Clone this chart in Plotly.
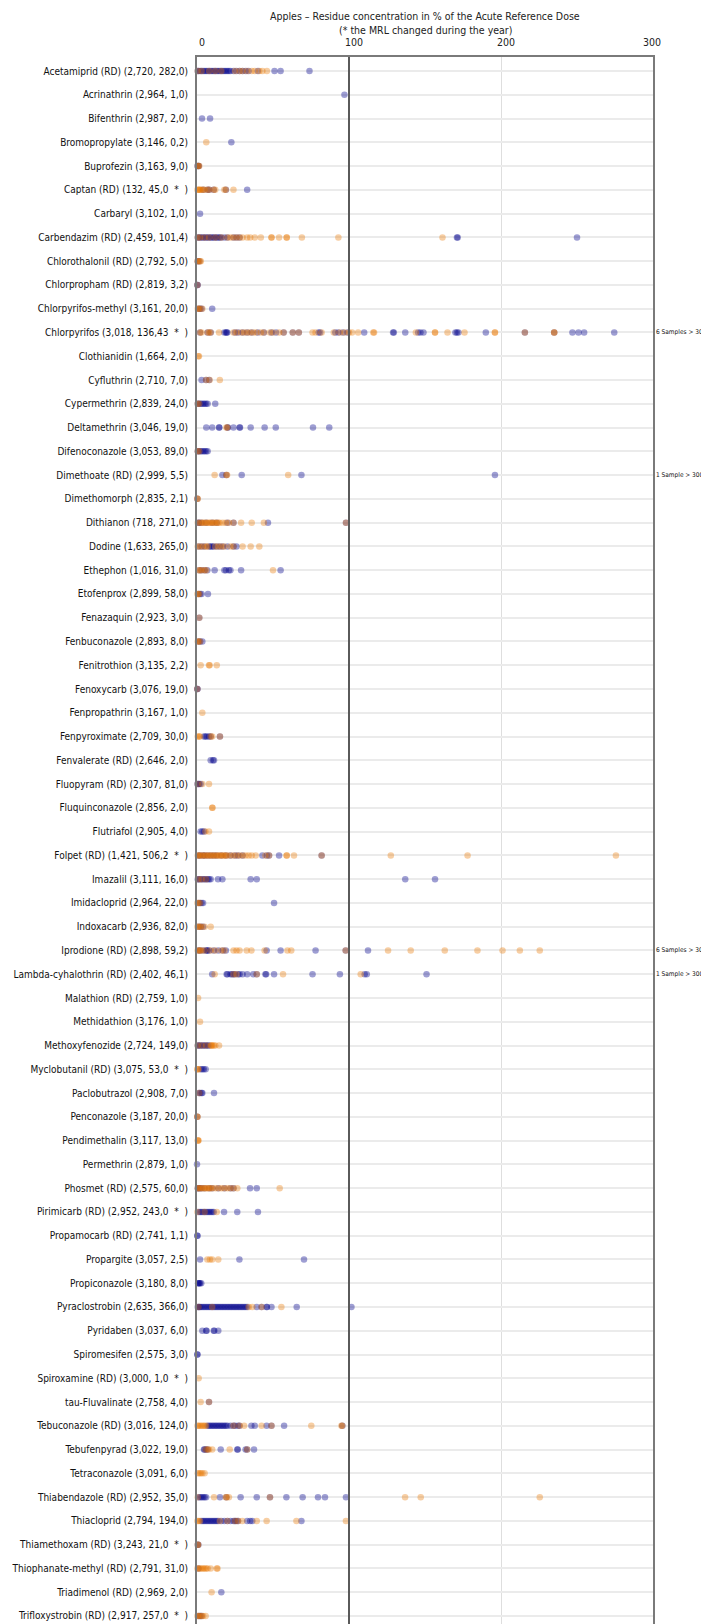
import plotly.graph_objects as go

STAR = " \u00a0*\u00a0 )"
categories = [
    "Acetamiprid (RD) (2,720, 282,0)", "Acrinathrin (2,964, 1,0)", "Bifenthrin (2,987, 2,0)",
    "Bromopropylate (3,146, 0,2)", "Buprofezin (3,163, 9,0)", "Captan (RD) (132, 45,0" + STAR,
    "Carbaryl (3,102, 1,0)", "Carbendazim (RD) (2,459, 101,4)", "Chlorothalonil (RD) (2,792, 5,0)",
    "Chlorpropham (RD) (2,819, 3,2)", "Chlorpyrifos-methyl (3,161, 20,0)", "Chlorpyrifos (3,018, 136,43" + STAR,
    "Clothianidin (1,664, 2,0)", "Cyfluthrin (2,710, 7,0)", "Cypermethrin (2,839, 24,0)",
    "Deltamethrin (3,046, 19,0)", "Difenoconazole (3,053, 89,0)", "Dimethoate (RD) (2,999, 5,5)",
    "Dimethomorph (2,835, 2,1)", "Dithianon (718, 271,0)", "Dodine (1,633, 265,0)",
    "Ethephon (1,016, 31,0)", "Etofenprox (2,899, 58,0)", "Fenazaquin (2,923, 3,0)",
    "Fenbuconazole (2,893, 8,0)", "Fenitrothion (3,135, 2,2)", "Fenoxycarb (3,076, 19,0)",
    "Fenpropathrin (3,167, 1,0)", "Fenpyroximate (2,709, 30,0)", "Fenvalerate (RD) (2,646, 2,0)",
    "Fluopyram (RD) (2,307, 81,0)", "Fluquinconazole (2,856, 2,0)", "Flutriafol (2,905, 4,0)",
    "Folpet (RD) (1,421, 506,2" + STAR, "Imazalil (3,111, 16,0)", "Imidacloprid (2,964, 22,0)",
    "Indoxacarb (2,936, 82,0)", "Iprodione (RD) (2,898, 59,2)", "Lambda-cyhalothrin (RD) (2,402, 46,1)",
    "Malathion (RD) (2,759, 1,0)", "Methidathion (3,176, 1,0)", "Methoxyfenozide (2,724, 149,0)",
    "Myclobutanil (RD) (3,075, 53,0" + STAR, "Paclobutrazol (2,908, 7,0)", "Penconazole (3,187, 20,0)",
    "Pendimethalin (3,117, 13,0)", "Permethrin (2,879, 1,0)", "Phosmet (RD) (2,575, 60,0)",
    "Pirimicarb (RD) (2,952, 243,0" + STAR, "Propamocarb (RD) (2,741, 1,1)", "Propargite (3,057, 2,5)",
    "Propiconazole (3,180, 8,0)", "Pyraclostrobin (2,635, 366,0)", "Pyridaben (3,037, 6,0)",
    "Spiromesifen (2,575, 3,0)", "Spiroxamine (RD) (3,000, 1,0" + STAR, "tau-Fluvalinate (2,758, 4,0)",
    "Tebuconazole (RD) (3,016, 124,0)", "Tebufenpyrad (3,022, 19,0)", "Tetraconazole (3,091, 6,0)",
    "Thiabendazole (RD) (2,952, 35,0)", "Thiacloprid (2,794, 194,0)", "Thiamethoxam (RD) (3,243, 21,0" + STAR,
    "Thiophanate-methyl (RD) (2,791, 31,0)", "Triadimenol (RD) (2,969, 2,0)", "Trifloxystrobin (RD) (2,917, 257,0" + STAR,
]

blue_values = [
    [0.5,1,2,3,4,5,6,7,8,9,10,11,12,13,14,15,16,17,18,19,20,21,22,24,26,28,30,32,34,40,51,55,74],
    [97], [3.3,8.6], [22.6], [0.3,0.8,1.2],
    [4,7,8,11,19,33], [2],
    [0.5,1,2,3,4,5,6,7,8,9,10,11,12,13,14,15,16,18,20,24,26,28,171,171.5,250],
    [0.5,1.5], [0.2,0.4], [1,2,3,10],
    [2,7,9,18,19,19.5,20,25,27,30,33,36,40,44,49,52,57,63,67,80,81,91,93,96,99,110,129,129.5,137,145.5,147,149,170,171,172,190,215.7,235,247,251,254.7,274.5],
    [], [3,6,8], [0.5,1,2,3,4,5,6,7,12],
    [6.1,10,14.5,14.7,20,20.3,24,28,28.3,35.3,44.5,51.8,76.3,87],
    [0.5,1,2,3,4,5,6,7],
    [16.7,19.3,29.4,68.7,196], [0.2],
    [1,1.3,3,6,10,13,20,24,46.7,98],
    [1,3,5,8,9,10,11,13,15,17,20,24,26],
    [1.5,3,5,6.8,11.6,18,19,21,22,29,55],
    [1,2,3,7.2], [1.5], [1,2,3.5],
    [], [0.2,0.3], [],
    [4.6,5.5,6.5,7.9,9,15.1], [9,10.5,11.2],
    [0.3,1,1.5,2.4], [], [2.4,3.5,4.6],
    [1,2,4,5,7,9,11,13,16,19,22,25,27,30,43,46,47.4,54,82],
    [0.5,1,2,3,4,5,6,7,8,9,13.8,16.7,35.3,39.3,137,156.6],
    [1,2,3,4,50.7], [1,2.5,4],
    [1,2,4,6,6.5,7,8,11,14,17,19,45.8,55,78,97.8,112.5],
    [10,19.5,20,22,23,24,25,27,28,30,33,37,39.3,45,45.5,50.7,76,94,110.3,111.7,151],
    [], [], [0.5,1,2,3,4,5,6,7,8],
    [2.4,3.5,4.5,5.7], [1.3,2,3,3.5,11.2], [0.2], [], [0],
    [0.5,1,2,3,5,8,10,14,18,22,24,34.9,39.3],
    [1,2,3,4,5,6,7,8,9,10,11,17.8,26.5,40.1],
    [0.2,0.3], [2,27.9,70.4], [0.7,1,1.5,2,2.8],
    [0.5,1,1.5,2,3,4,5,6,7,8,9,10,11,12,13,14,15,16,17,18,19,20,21,22,23,24,25,26,27,28,29,30,31,32,33,39.3,42.5,45.8,46,49,65.6,101.6],
    [3.5,6,6.3,11,11.4,14], [0.2,0.3], [], [7.9],
    [7,8,9,10,11,12,13,14,15,16,17,18,19,20,22,24,25,27,28,35.8,38,45.8,49,57.3,95.6],
    [4.6,5,6,7,15.6,26.5,26.8,32,33,37.5], [],
    [1,2,3,4,5,6,15.1,19.3,28.7,39.3,48,58.8,69.5,79.6,84.2,98],
    [3,4,5,6,7,8,9,10,11,12,13,14,16,18,20,22,24,25,26,27,33,35,36.4,68.7],
    [0.5,0.9], [1], [16], [1,2,3],
]

orange_values = [
    [0.5,3,8,12,16,25,28,30,33,36,38,41,43,46],
    [], [], [6.1], [0.5,1,1.5],
    [0.3,1,1.5,2,3,4,5,7,8,11,12,18,19,24], [],
    [0.5,2,5,8,12,16,20,22,24,26,28,30,33,35,38,42,49,49,54,59,59,69,93,161.5],
    [0.3,1,2,2.5], [0.3], [0.5,1,2,3.5],
    [2,3,7,8,9,14.5,24,26,29,31,33,35,37,39,42,44,48,50,54,57,63,67,76,78,82,90,94,97,100,102,106,116,116.5,144,156.6,156.6,164.8,176,196,196,215.7,235,235],
    [0.8,1.3], [6,8.3,15], [0.5,1.5],
    [19.3,20],
    [0.5,1.5],
    [11.6,19.3,19.8,60], [0.2,0.5],
    [0.5,2,3,4,5,6,7,8,9,10,11,12,13,14,15,17,19,21,24,29,36,44,98],
    [0.5,2,4,6,7,12,14,16,18,22,24,30,35.3,41],
    [1,2,3,5,6,50],
    [0.3,0.8,1.5], [1.5], [0.5,1,2],
    [2.4,7.9,8.3,13], [0.2], [3.5],
    [0.5,1.3,2,9,10,15.1], [],
    [0.5,3.5,7.9], [10.1,10.1], [5.5,7.9],
    [0.5,1,2,3,4,5,6,7,8,9,10,11,12,13,14,15,16,17,18,19,20,22,24,26,28,30,32,34,36,38.6,45,47.4,59,59,63.8,82,127.5,178,275.6],
    [1,3,6],
    [0.3,1,2], [0.3,1,2,3,5,9],
    [0.5,1.5,2,3,5,9,12,16,18,24,26,28,32.7,35.8,44.5,59.5,62,97.8,125.7,140.6,163,184.5,201,212.4,225.5],
    [11.6,24,26,39.3,56.6,107.7],
    [0.7], [2], [0.5,3,6,9,9.5,10,11,12,14.5],
    [0.2,0.5,1], [1.5], [0.2,0.3], [0.5,0.7,1], [],
    [0.5,1,2,3,4,5,6,7,8,9,10,12,14,16,18,20,22,24,26.5,54.4],
    [0.3,5,13],
    [], [6.8,8.5,10,14], [],
    [1,10,34,36.4,42.5,55.5],
    [], [], [1.1], [2.4,7.9],
    [0.3,1,2,3,4,5,6,24,28,31,42.5,49,75.2,95,95.6],
    [5.7,7,7.9,10,21.5,33], [0.5,1.5,2.5,3.5,5],
    [0.5,11.2,19,19.5,21,48,136.9,147.2,225.5],
    [0.3,1,2,15,20,25,27,29.8,39.3,45.8,65.4,98],
    [0.5,0.8], [0.3,1,2,3,4,5,6,7,9,13,13.5], [9.6], [0.3,1,2,3,4,5.7],
]

overflow_rows = [11, 17, 37, 38]
overflow_notes = ["6 Samples > 300%", "1 Sample > 300%", "6 Samples > 300%", "1 Sample > 300%"]

x_ticks = [0, 100, 200, 300]
x_tick_labels = ["0", "100", "200", "300\u2007\u2007"]
arfd_line = 100

title_lines = ["Apples \u2013 Residue concentration in % of the Acute Reference Dose",
               "(* the MRL changed during the year)"]

FONT = "DejaVu Sans Condensed, DejaVu Sans, sans-serif"
PLOT_TOP, PLOT_BOTTOM = 49, 1622
PLOT_H = PLOT_BOTTOM - PLOT_TOP


def flatten(values):
    xs, ys = [], []
    for cat, vals in zip(categories, values):
        for v in vals:
            xs.append(v)
            ys.append(cat)
    return xs, ys


fig = go.Figure()
bx, by = flatten(blue_values)
ox, oy = flatten(orange_values)
fig.add_trace(go.Scatter(x=bx, y=by, mode="markers", cliponaxis=False, showlegend=False,
                         marker=dict(size=6.5, color="rgb(0,0,139)", opacity=0.38, line=dict(width=0))))
fig.add_trace(go.Scatter(x=ox, y=oy, mode="markers", cliponaxis=False, showlegend=False,
                         marker=dict(size=6.5, color="rgb(232,118,0)", opacity=0.36, line=dict(width=0))))

fig.add_shape(type="line", x0=arfd_line, x1=arfd_line, y0=0, y1=1, xref="x", yref="paper",
              line=dict(color="#5a5a5a", width=2), layer="above")

for row, note in zip(overflow_rows, overflow_notes):
    fig.add_annotation(x=1, xref="paper", y=categories[row], yref="y", text=note, showarrow=False,
                       xanchor="left", xshift=2, borderpad=0,
                       font=dict(family=FONT, size=6.5, color="#111"))

for line, py in zip(title_lines, [8, 22]):
    fig.add_annotation(x=0.5, xref="paper", y=1 + (PLOT_TOP - py) / PLOT_H, yref="paper",
                       text=line, showarrow=False, xanchor="center", yanchor="middle", borderpad=0,
                       font=dict(family=FONT, size=10.5, color="#222"))

n = len(categories)
fig.update_layout(
    width=709, height=1624,
    margin=dict(l=189, r=64, t=PLOT_TOP, b=1624 - PLOT_BOTTOM, autoexpand=False),
    paper_bgcolor="white", plot_bgcolor="white",
    font=dict(family=FONT, size=10, color="#222"),
    xaxis=dict(side="top", range=[0, 300], tickvals=x_ticks, ticktext=x_tick_labels,
               showgrid=True, gridcolor="#dedede", gridwidth=1, zeroline=False,
               showline=True, mirror=True, linecolor="#7a7a7a", linewidth=2,
               ticks="", ticklabelshift=5, ticklabelstandoff=5,
               tickfont=dict(family=FONT, size=10.5, color="#222")),
    yaxis=dict(type="category", categoryorder="array", categoryarray=categories,
               range=[n - 1 + 0.59, -0.59], showgrid=True, gridcolor="#ebebeb", gridwidth=1.5,
               zeroline=False, showline=True, mirror=True, linecolor="#7a7a7a", linewidth=2,
               ticks="", ticklabelstandoff=5, tickfont=dict(family=FONT, size=10, color="#111")),
)

fig.write_html("out.html")
